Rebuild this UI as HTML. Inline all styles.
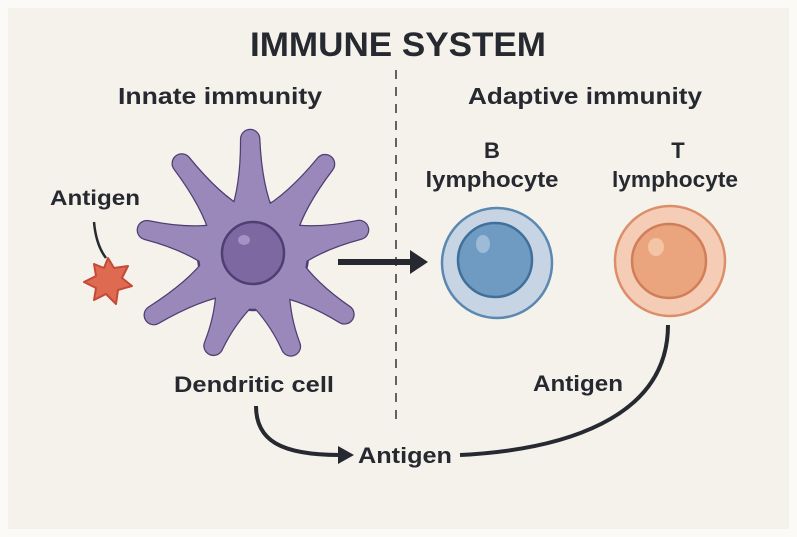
<!DOCTYPE html>
<html><head><style>
html,body{margin:0;padding:0;background:#f7f5f0;}
svg{display:block;}
text{font-family:"Liberation Sans",sans-serif;fill:#262a30;font-weight:bold;}
</style></head><body>
<svg width="797" height="537" viewBox="0 0 797 537">
<defs>
<path id="a125" d="M40,-22 Q68,-10 116,-9 A9,9 0 0 1 116,9 Q68,10 40,22 Z"/>
<path id="a118" d="M40,-22 Q68,-10 109,-9 A9,9 0 0 1 109,9 Q68,10 40,22 Z"/>
<path id="a108" d="M40,-22 Q68,-10 99,-9 A9,9 0 0 1 99,9 Q68,10 40,22 Z"/>
</defs>
<rect x="0" y="0" width="797" height="537" fill="#fbfaf7"/>
<rect x="8" y="8" width="781" height="521" fill="#f5f2ec"/>
<text x="398" y="56" text-anchor="middle" font-size="34" textLength="296" lengthAdjust="spacingAndGlyphs">IMMUNE SYSTEM</text>
<text x="220" y="104" text-anchor="middle" font-size="23" textLength="204" lengthAdjust="spacingAndGlyphs">Innate immunity</text>
<text x="585" y="104" text-anchor="middle" font-size="23" textLength="234" lengthAdjust="spacingAndGlyphs">Adaptive immunity</text>
<text x="492" y="158" text-anchor="middle" font-size="22">B</text>
<text x="492" y="187" text-anchor="middle" font-size="22" textLength="133" lengthAdjust="spacingAndGlyphs">lymphocyte</text>
<text x="678" y="158" text-anchor="middle" font-size="22">T</text>
<text x="675" y="187" text-anchor="middle" font-size="22" textLength="126" lengthAdjust="spacingAndGlyphs">lymphocyte</text>
<text x="95" y="205" text-anchor="middle" font-size="21" textLength="90" lengthAdjust="spacingAndGlyphs">Antigen</text>
<text x="254" y="392" text-anchor="middle" font-size="22" textLength="160" lengthAdjust="spacingAndGlyphs">Dendritic cell</text>
<text x="578" y="391" text-anchor="middle" font-size="22" textLength="90" lengthAdjust="spacingAndGlyphs">Antigen</text>
<text x="405" y="463" text-anchor="middle" font-size="22" textLength="94" lengthAdjust="spacingAndGlyphs">Antigen</text>
<line x1="396" y1="70" x2="396" y2="420" stroke="#333" stroke-width="1.5" stroke-dasharray="9,8"/>
<path d="M94,222 Q96,245 106,258" fill="none" stroke="#262a30" stroke-width="2.5"/>
<polygon points="108,258 114,268 128,266 122,278 132,286 118,290 116,304 106,294 94,300 96,288 84,282 96,276 94,264 104,268" fill="#de6a52" stroke="#c44a38" stroke-width="2" stroke-linejoin="round"/>
<g transform="translate(253,255)">
<g fill="#9a88ba" stroke="#4e3f72" stroke-width="2.5" stroke-linejoin="round">
<use href="#a125" transform="rotate(-91.4)"/>
<use href="#a125" transform="rotate(-127.9)"/>
<use href="#a125" transform="rotate(-51.6)"/>
<use href="#a118" transform="rotate(-166.8)"/>
<use href="#a118" transform="rotate(-13.3)"/>
<use href="#a125" transform="rotate(148.8)"/>
<use href="#a118" transform="rotate(33)"/>
<use href="#a108" transform="rotate(113.5)"/>
<use href="#a108" transform="rotate(67.5)"/>
<circle cx="0" cy="0" r="55"/>
</g>
<g fill="#9a88ba">
<use href="#a125" transform="rotate(-91.4)"/>
<use href="#a125" transform="rotate(-127.9)"/>
<use href="#a125" transform="rotate(-51.6)"/>
<use href="#a118" transform="rotate(-166.8)"/>
<use href="#a118" transform="rotate(-13.3)"/>
<use href="#a125" transform="rotate(148.8)"/>
<use href="#a118" transform="rotate(33)"/>
<use href="#a108" transform="rotate(113.5)"/>
<use href="#a108" transform="rotate(67.5)"/>
<circle cx="0" cy="0" r="50"/>
</g>
</g>
<circle cx="253" cy="253" r="31" fill="#7e68a2" stroke="#4e3f72" stroke-width="2.5"/>
<ellipse cx="244" cy="240" rx="6" ry="5" fill="#a592c4"/>
<line x1="338" y1="262" x2="412" y2="262" stroke="#262a30" stroke-width="6"/>
<polygon points="410,250 428,262 410,274" fill="#262a30"/>
<circle cx="497" cy="263" r="55" fill="#c6d4e4" stroke="#5a88b0" stroke-width="2.5"/>
<circle cx="495" cy="260" r="37" fill="#6f9bc2" stroke="#3f6f9a" stroke-width="2.5"/>
<ellipse cx="483" cy="244" rx="7" ry="9" fill="#9dbbd6"/>
<circle cx="670" cy="261" r="55" fill="#f5cdb6" stroke="#dc8e68" stroke-width="2.5"/>
<circle cx="669" cy="261" r="37" fill="#eaa47e" stroke="#d07e58" stroke-width="2.5"/>
<ellipse cx="656" cy="247" rx="8" ry="9" fill="#f3c4a6"/>
<path d="M256,406 C256,440 280,455 340,455" fill="none" stroke="#262a30" stroke-width="4"/>
<polygon points="338,446 354,455 338,464" fill="#262a30"/>
<path d="M460,455 C560,450 668,420 668,325" fill="none" stroke="#262a30" stroke-width="4"/>
</svg>
</body></html>
